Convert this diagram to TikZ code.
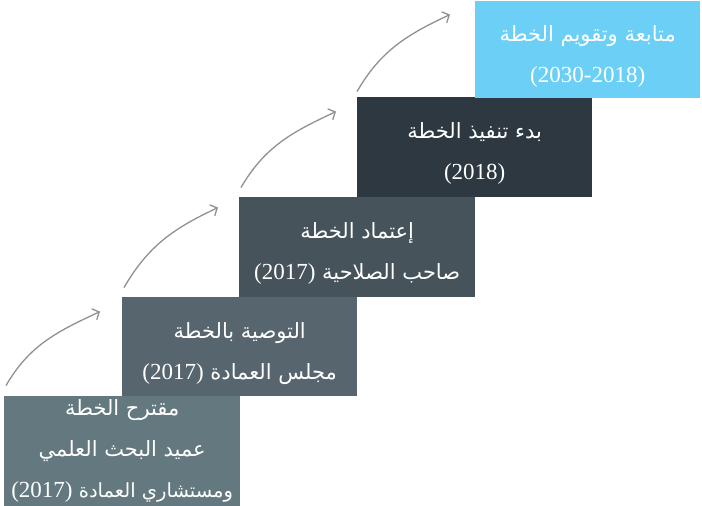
\documentclass[tikz,border=0pt]{standalone}
\usepackage{fontspec}
\setmainfont{Liberation Serif}
\newfontfamily\arabicfont[Script=Arabic]{DejaVu Sans}
\TeXXeTstate=1
\usetikzlibrary{arrows.meta,positioning,calc}
\definecolor{stepone}{HTML}{647880}
\definecolor{steptwo}{HTML}{56656E}
\definecolor{stepthree}{HTML}{46535B}
\definecolor{stepfour}{HTML}{2D3840}
\definecolor{stepfive}{HTML}{6CCFF6}
\definecolor{arrowgrey}{HTML}{8C9296}
\newcommand{\arline}[1]{{\arabicfont\beginR #1\endR}}
\newcommand{\yr}[1]{{\rmfamily\fontsize{23}{40}\selectfont\beginL #1\endL}}
\tikzstyle{stepbox}=[inner sep=0pt,anchor=south west,text=white,align=center,font=\fontsize{21}{41}\selectfont]
\tikzstyle{twoline}=[text height=71pt]
\tikzstyle{risearrow}=[draw=arrowgrey,line width=1.3pt,-{Straight Barb[length=5.5pt,width=12pt]}]

\begin{document}
\begin{tikzpicture}[x=1pt,y=1pt]
\useasboundingbox[fill=white] (0,0) rectangle (702,506);
\node [stepbox,fill=stepone,minimum width=236pt,minimum height=110pt] (propose) at (4,0)
  {\arline{مقترح الخطة}\\ \arline{عميد البحث العلمي}\\ {\fontsize{19.5}{41}\selectfont\arline{ومستشاري العمادة \yr{(2017)}}}};
\node [stepbox,twoline,fill=steptwo,minimum width=235pt,minimum height=99pt] (recommend) at (122,110)
  {\arline{التوصية بالخطة}\\ \arline{مجلس العمادة \yr{(2017)}}};
\node [stepbox,twoline,fill=stepthree,minimum width=236pt,minimum height=100pt] (approve) at (239,209)
  {\arline{إعتماد الخطة}\\ \arline{صاحب الصلاحية \yr{(2017)}}};
\node [stepbox,twoline,fill=stepfour,minimum width=235pt,minimum height=100pt] (launch) at (357,309)
  {\arline{بدء تنفيذ الخطة}\\ \yr{(2018)}};
\node [stepbox,twoline,fill=stepfive,minimum width=225pt,minimum height=97pt] (review) at (475,408)
  {\arline{متابعة وتقويم الخطة}\\ \yr{(2030-2018)}};

\coordinate (a1s) at ($(propose.north west)+(2,10)$);
\coordinate (a1e) at ($(recommend.north west)+(-22,-15)$);
\coordinate (a2s) at ($(recommend.north west)+(2,9)$);
\coordinate (a2e) at ($(approve.north west)+(-21,-11)$);
\coordinate (a3s) at ($(approve.north west)+(2,9)$);
\coordinate (a3e) at ($(launch.north west)+(-21,-15)$);
\coordinate (a4s) at ($(launch.north west)+(0,5)$);
\coordinate (a4e) at ($(review.north west)+(-25,-14)$);
\draw [risearrow] (a1s) to[out=60,in=205] (a1e);
\draw [risearrow] (a2s) to[out=60,in=205] (a2e);
\draw [risearrow] (a3s) to[out=60,in=205] (a3e);
\draw [risearrow] (a4s) to[out=60,in=205] (a4e);
\end{tikzpicture}
\end{document}
